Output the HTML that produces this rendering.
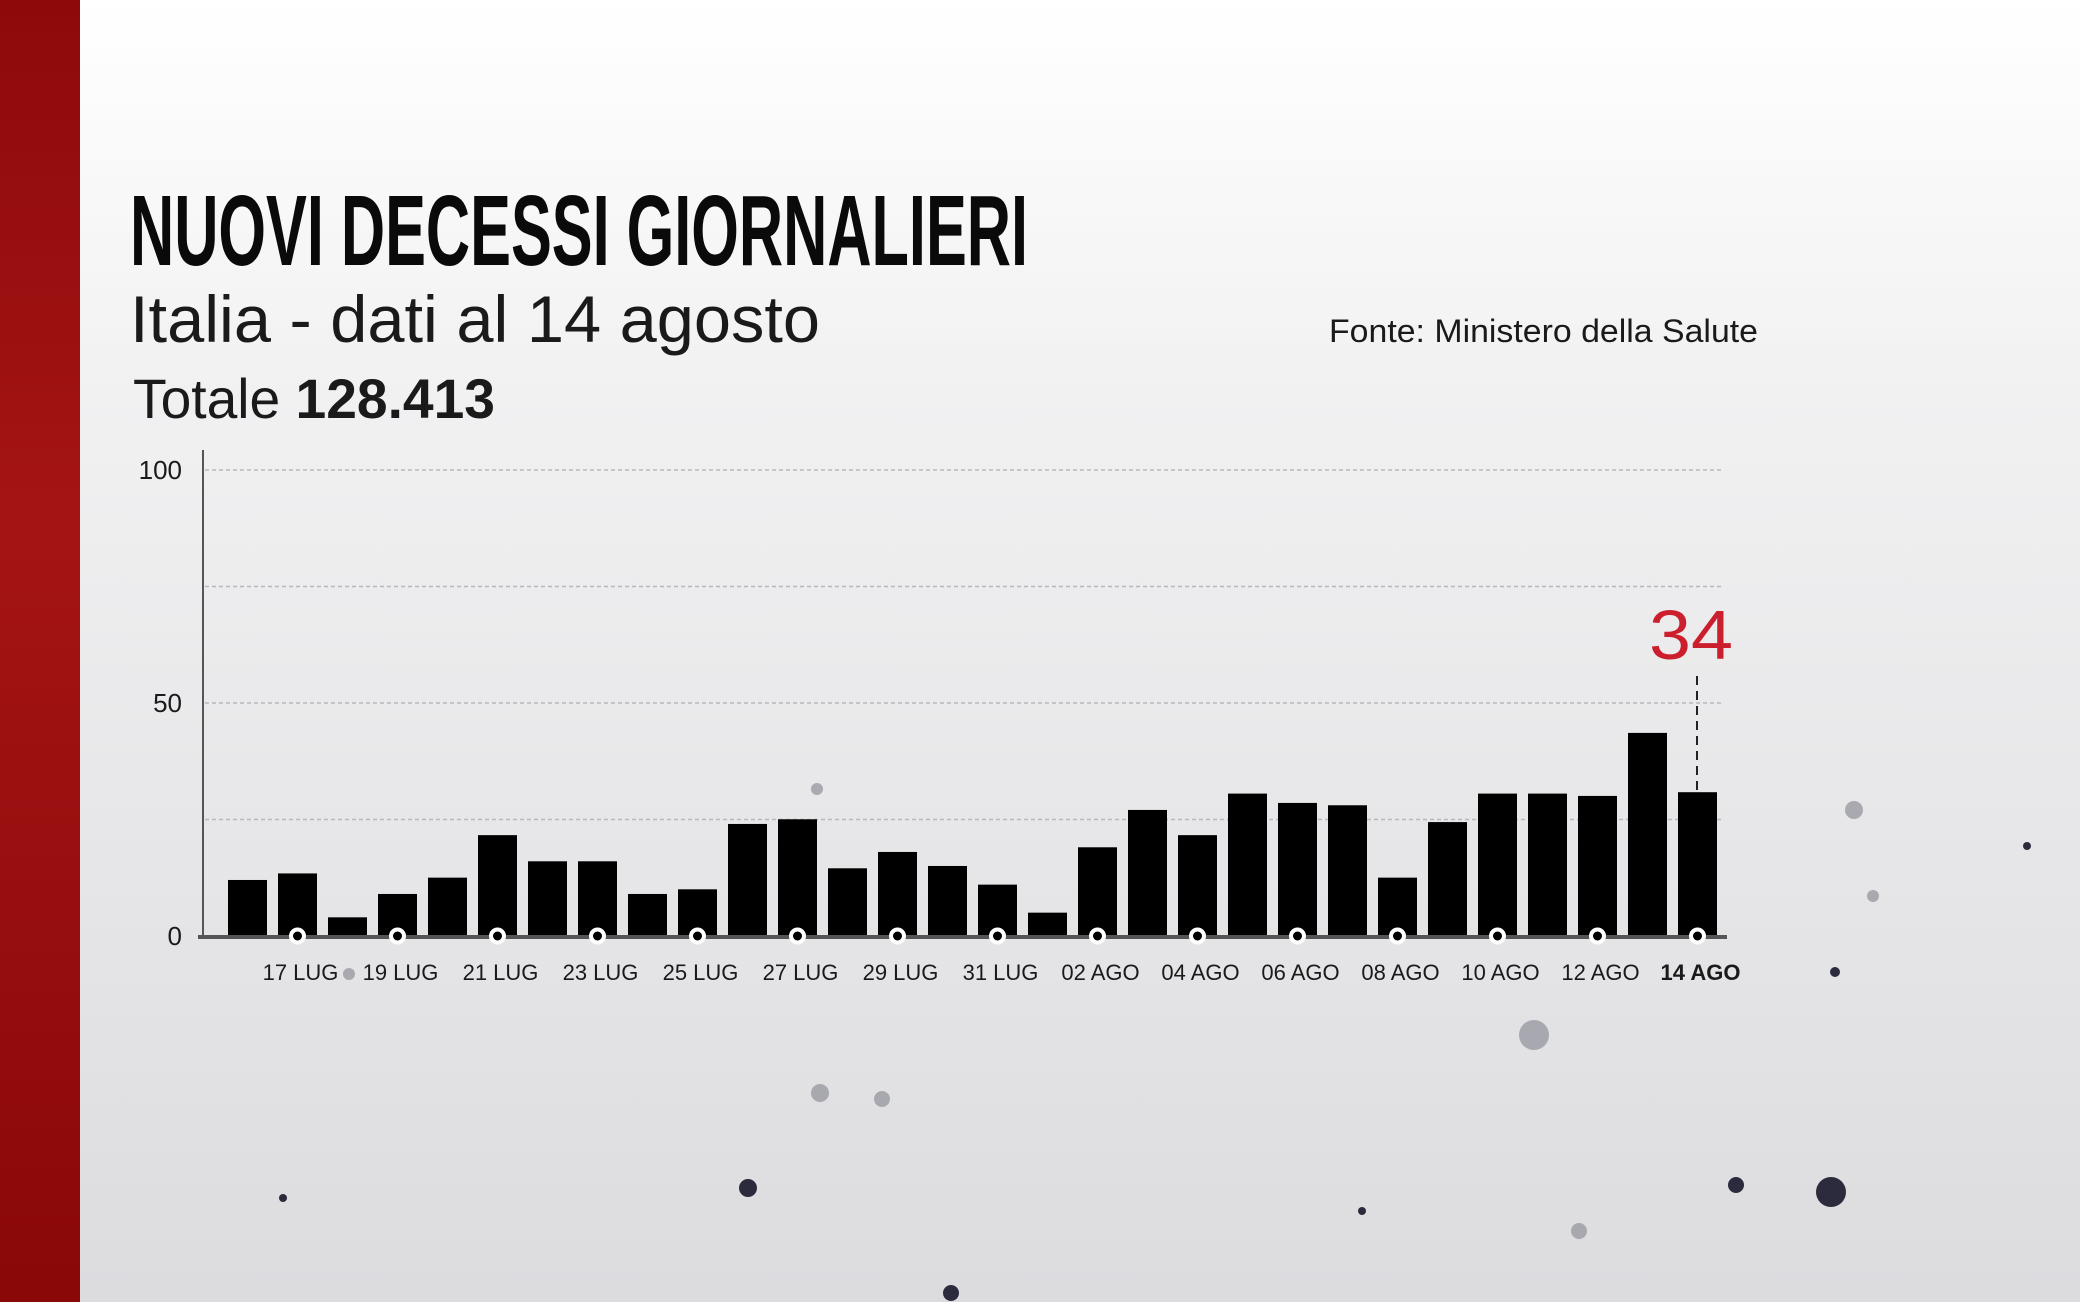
<!DOCTYPE html>
<html><head><meta charset="utf-8"><style>
html,body{margin:0;padding:0;width:2080px;height:1302px;overflow:hidden}
</style></head><body>
<svg width="2080" height="1302" viewBox="0 0 2080 1302" xmlns="http://www.w3.org/2000/svg">
<defs>
<linearGradient id="bg" x1="0" y1="0" x2="0" y2="1">
<stop offset="0" stop-color="#ffffff"/><stop offset="0.3" stop-color="#f1f1f2"/><stop offset="1" stop-color="#dcdcdf"/>
</linearGradient>
<linearGradient id="red" x1="0" y1="0" x2="0" y2="1">
<stop offset="0" stop-color="#8e0a0a"/><stop offset="0.4" stop-color="#a51414"/><stop offset="1" stop-color="#8a0808"/>
</linearGradient>
</defs>
<rect width="2080" height="1302" fill="url(#bg)"/>
<rect width="80" height="1302" fill="url(#red)"/>
<g fill="#9a9aa3" opacity="0.8">
<circle cx="1854" cy="810" r="9"/><circle cx="1534" cy="1035" r="15"/><circle cx="820" cy="1093" r="9"/><circle cx="882" cy="1099" r="8"/>
<circle cx="1579" cy="1231" r="8"/><circle cx="817" cy="789" r="6"/><circle cx="349" cy="974" r="6"/><circle cx="1873" cy="896" r="6"/>
</g>
<g fill="#2b2b3d">
<circle cx="1831" cy="1192" r="15"/><circle cx="748" cy="1188" r="9"/><circle cx="1736" cy="1185" r="8"/><circle cx="951" cy="1293" r="8"/>
<circle cx="1835" cy="972" r="5"/><circle cx="2027" cy="846" r="4"/><circle cx="283" cy="1198" r="4"/><circle cx="1362" cy="1211" r="4"/>
</g>
<text x="130" y="265" font-family="Liberation Sans, sans-serif" font-weight="bold" font-size="100" textLength="898" lengthAdjust="spacingAndGlyphs" fill="#0a0a0a">NUOVI DECESSI GIORNALIERI</text>
<text x="130" y="342" font-family="Liberation Sans, sans-serif" font-size="66" textLength="690" lengthAdjust="spacingAndGlyphs" fill="#1a1a1a">Italia - dati al 14 agosto</text>
<text x="133" y="418" font-family="Liberation Sans, sans-serif" font-size="56" fill="#1a1a1a" textLength="362" lengthAdjust="spacingAndGlyphs">Totale <tspan font-weight="bold">128.413</tspan></text>
<text x="1329" y="342" font-family="Liberation Sans, sans-serif" font-size="32" textLength="429" lengthAdjust="spacingAndGlyphs" fill="#1a1a1a">Fonte: Ministero della Salute</text>
<g stroke="#b8b8bc" stroke-width="1.5" stroke-dasharray="4,3">
<line x1="205" y1="470" x2="1722" y2="470"/><line x1="205" y1="586.5" x2="1722" y2="586.5"/>
<line x1="205" y1="703" x2="1722" y2="703"/><line x1="205" y1="819.5" x2="1722" y2="819.5"/>
</g>
<line x1="203" y1="450" x2="203" y2="937" stroke="#555" stroke-width="2"/>
<g font-family="Liberation Sans, sans-serif" font-size="26" fill="#1a1a1a" text-anchor="end">
<text x="182" y="479">100</text><text x="182" y="712">50</text><text x="182" y="945">0</text>
</g>
<g fill="#000" id="bars"></g>
<line x1="198" y1="937" x2="1727" y2="937" stroke="#555" stroke-width="4"/>
<g id="circ"></g>
<g id="lab" font-family="Liberation Sans, sans-serif" font-size="22" fill="#1a1a1a" text-anchor="middle"></g>
<line x1="1697" y1="676" x2="1697" y2="793" stroke="#222" stroke-width="2" stroke-dasharray="9,6"/>
<text x="1691" y="659" font-family="Liberation Sans, sans-serif" font-size="70" fill="#cc1f2d" text-anchor="middle" textLength="84" lengthAdjust="spacingAndGlyphs">34</text>
</svg>
<script>
var v=[12,13.4,4,9,12.5,21.6,16,16,9,10,24,25,14.5,18,15,11,5,19,27,21.6,30.5,28.5,28,12.5,24.4,30.5,30.5,30,43.5,30.8];
var ns="http://www.w3.org/2000/svg",b=document.getElementById('bars'),c=document.getElementById('circ'),l=document.getElementById('lab');
var names=["17 LUG","19 LUG","21 LUG","23 LUG","25 LUG","27 LUG","29 LUG","31 LUG","02 AGO","04 AGO","06 AGO","08 AGO","10 AGO","12 AGO","14 AGO"];
for(var i=0;i<30;i++){var h=v[i]*4.669,r=document.createElementNS(ns,'rect');
r.setAttribute('x',228+50*i);r.setAttribute('y',936-h);r.setAttribute('width',39);r.setAttribute('height',h);b.appendChild(r);
if(i%2==1){var cx=247.5+50*i,k=document.createElementNS(ns,'circle');k.setAttribute('cx',cx);k.setAttribute('cy',936);k.setAttribute('r',6.5);
k.setAttribute('fill','#000');k.setAttribute('stroke','#fff');k.setAttribute('stroke-width',4);c.appendChild(k);
var t=document.createElementNS(ns,'text');t.setAttribute('x',cx+3);t.setAttribute('y',980);t.textContent=names[(i-1)/2];if(i==29)t.setAttribute('font-weight','bold');l.appendChild(t);}}
</script>
</body></html>
